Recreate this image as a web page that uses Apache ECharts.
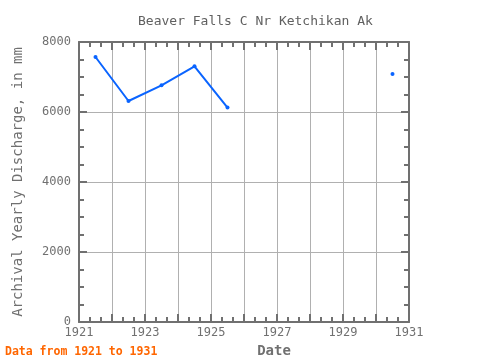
<!DOCTYPE html>
<html>
<head>
<meta charset="utf-8">
<script src="https://cdn.jsdelivr.net/npm/echarts@6/dist/echarts.min.js"></script>
<style>
	html, body { margin: 0; padding: 0; background: #fff; }
	#chart { width: 480px; height: 360px; }
</style>
</head>
<body>
<div id="chart"></div>
<script>
// yearly values, mid-year points; null = missing year
var years = [1921.5, 1922.5, 1923.5, 1924.5, 1925.5, 1926.5, 1927.5, 1928.5, 1929.5, 1930.5];
var discharge = [7571, 6314, 6763, 7306, 6126, null, null, null, null, 7086];
var yTicks = [0, 2000, 4000, 6000, 8000];

var FONT = 'DejaVu Sans Mono';
var GREY = '#707070';

var points = years.map(function(y, i){
	return [y, discharge[i]];
});

var axisBase = {
	axisLine: { show: true, onZero: false, lineStyle: { color: GREY, width: 2 } },
	axisTick: { show: true, inside: true, length: 8, lineStyle: { color: GREY, width: 2 } },
	minorTick: { show: true, length: 5, lineStyle: { color: GREY, width: 2 } }
};

var chart = echarts.init(document.getElementById('chart'));

chart.setOption({
	animation: false,
	title: {
		text: 'Beaver Falls C Nr Ketchikan Ak',
		left: 133,
		top: 10,
		textStyle: { fontFamily: FONT, fontSize: 13, fontWeight: 'normal', color: '#606060' }
	},
	graphic: [{
		type: 'text',
		left: 5,
		top: 346,
		style: { text: 'Data from 1921 to 1931', fill: '#ff6600', font: 'bold 11.5px "' + FONT + '"' }
	}],
	grid: { left: 79, right: 71, top: 42, bottom: 38, outerBoundsMode: 'none' },
	xAxis: [
		Object.assign({}, axisBase, {
			type: 'value',
			min: 1921,
			max: 1931,
			interval: 1,
			minorTick: Object.assign({}, axisBase.minorTick, { splitNumber: 3 }),
			splitLine: { show: true, lineStyle: { color: '#b0b0b0', width: 1 } },
			axisLabel: {
				fontFamily: FONT, fontSize: 12, color: GREY, margin: 5,
				formatter: function(v){ return (v - 1921) % 2 == 0 ? String(v) : ''; }
			},
			name: 'Date',
			nameLocation: 'middle',
			nameGap: 18,
			nameTextStyle: { fontFamily: FONT, fontSize: 14, fontWeight: 'bold', color: GREY, padding: [0, 0, 0, 60] }
		}),
		Object.assign({}, axisBase, {
			type: 'value',
			position: 'top',
			min: 1921,
			max: 1931,
			interval: 1,
			minorTick: Object.assign({}, axisBase.minorTick, { splitNumber: 3 }),
			splitLine: { show: false },
			axisLabel: { show: false }
		})
	],
	yAxis: [
		Object.assign({}, axisBase, {
			type: 'value',
			min: yTicks[0],
			max: yTicks[yTicks.length - 1],
			interval: 2000,
			minorTick: Object.assign({}, axisBase.minorTick, { splitNumber: 4 }),
			splitLine: { show: true, lineStyle: { color: '#b0b0b0', width: 1 } },
			axisLabel: {
				fontFamily: FONT, fontSize: 12, color: GREY, margin: 8,
				formatter: function(v){ return String(v); }
			},
			name: 'Archival Yearly Discharge, in mm',
			nameLocation: 'middle',
			nameGap: 54,
			nameTextStyle: { fontFamily: FONT, fontSize: 14, color: GREY }
		}),
		Object.assign({}, axisBase, {
			type: 'value',
			position: 'right',
			min: yTicks[0],
			max: yTicks[yTicks.length - 1],
			interval: 2000,
			minorTick: Object.assign({}, axisBase.minorTick, { splitNumber: 4 }),
			splitLine: { show: false },
			axisLabel: { show: false }
		})
	],
	series: [{
		type: 'line',
		data: points,
		connectNulls: false,
		symbol: 'circle',
		symbolSize: 4,
		showAllSymbol: true,
		lineStyle: { color: '#0a64ff', width: 2 },
		itemStyle: { color: '#0a64ff' }
	}]
});
</script>
</body>
</html>
